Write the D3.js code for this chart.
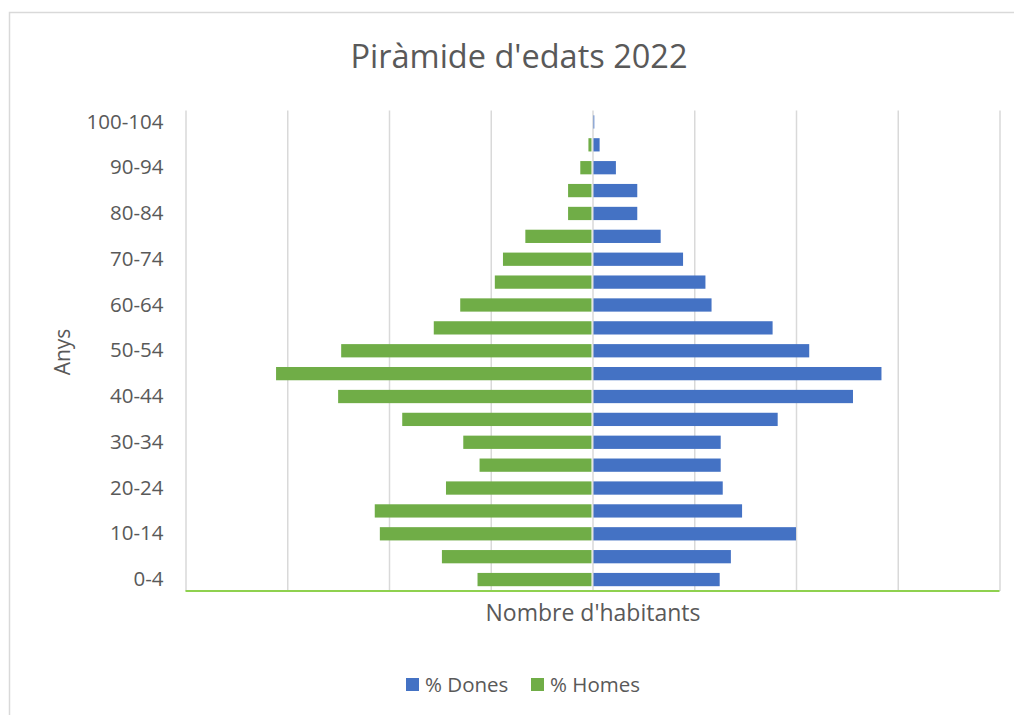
<!DOCTYPE html>
<html>
<head>
<meta charset="utf-8">
<script src="https://cdn.jsdelivr.net/npm/d3@7"></script>
<style>
  body { margin: 0; background: #fff; }
  svg { font-family: "Open Sans", "Noto Sans", sans-serif; }
  .grid line { stroke: #d9d9d9; stroke-width: 1.5; }
  .ylab text { fill: #595959; font-size: 20.5px; font-family: "Open Sans", "Noto Sans", sans-serif; }
</style>
</head>
<body>
<svg id="chart" width="1014" height="715"></svg>
<script>
// age groups, bottom to top
var ages = ['0-4','5-9','10-14','15-19','20-24','25-29','30-34','35-39','40-44','45-49',
            '50-54','55-59','60-64','65-69','70-74','75-79','80-84','85-89','90-94','95-99','100-104'];
var dones = [1.25,1.36,2.00,1.47,1.28,1.26,1.26,1.82,2.56,2.84,
             2.13,1.77,1.17,1.11,0.89,0.67,0.44,0.44,0.23,0.07,0.01];
var homes = [1.13,1.48,2.09,2.14,1.44,1.11,1.27,1.87,2.50,3.11,
             2.47,1.56,1.30,0.96,0.88,0.66,0.24,0.24,0.12,0.04,0];
var shownAges = ['0-4','10-14','20-24','30-34','40-44','50-54','60-64','70-74','80-84','90-94','100-104'];
var gridTicks = [-4,-3,-2,-1,0,1,2,3,4];

var svg = d3.select("#chart"),
    margin = {top: 110.5, left: 185.5, right: 14.5, bottom: 124},
    width = 1014 - margin.left - margin.right,
    height = 715 - margin.top - margin.bottom;

// chart frame
svg.append("rect")
    .attr("x", 9.5).attr("y", 12.5).attr("width", 1020).attr("height", 720)
    .style("fill", "none").style("stroke", "#d9d9d9").style("stroke-width", 1.5);

svg.append("text")
    .attr("x", 519).attr("y", 68)
    .attr("text-anchor", "middle")
    .style("font-size", "32.5px").style("fill", "#595959")
    .text("Piràmide d'edats 2022");

var g = svg.append("g").attr("transform", "translate(" + margin.left + "," + margin.top + ")");

var x = d3.scaleLinear().domain([-4, 4]).range([0, width]);
var y = d3.scaleBand().domain(ages).range([height, 0]).paddingInner(0.42).paddingOuter(0.21);

// vertical gridlines
g.append("g")
    .attr("class", "grid")
    .attr("transform", "translate(0," + height + ")")
    .call(d3.axisBottom(x).tickValues(gridTicks).tickSize(-height).tickFormat(""))
    .call(g => g.select(".domain").remove());

g.selectAll(".bar-h")
    .data(ages)
    .enter().append("rect")
    .attr("class", "bar-h")
    .attr("x", (d, i) => x(-homes[i]))
    .attr("y", d => y(d))
    .attr("width", (d, i) => x(0) - x(-homes[i]) - 1)
    .attr("height", y.bandwidth())
    .style("fill", "#70ad47");

g.selectAll(".bar-d")
    .data(ages)
    .enter().append("rect")
    .attr("class", "bar-d")
    .attr("x", x(0) + 1)
    .attr("y", d => y(d))
    .attr("width", (d, i) => Math.max(x(dones[i]) - x(0) - 1, 0.8))
    .attr("height", y.bandwidth())
    .style("fill", "#4472c4");

// bottom axis line
g.append("line")
    .attr("x1", 0).attr("x2", width)
    .attr("y1", height).attr("y2", height)
    .style("stroke", "#8fd14f").style("stroke-width", 2);

// age labels
g.append("g")
    .attr("class", "ylab")
    .attr("transform", "translate(-22,0)")
    .call(d3.axisLeft(y).tickValues(shownAges).tickSize(0).tickPadding(0))
    .call(g => g.select(".domain").remove());

svg.append("text")
    .attr("transform", "translate(70,352) rotate(-90)")
    .attr("text-anchor", "middle")
    .style("font-size", "21px").style("fill", "#595959")
    .text("Anys");

svg.append("text")
    .attr("x", 593).attr("y", 621)
    .attr("text-anchor", "middle")
    .style("font-size", "23px").style("fill", "#595959")
    .text("Nombre d'habitants");

// legend
var legend = [{name: "% Dones", color: "#4472c4", x: 406}, {name: "% Homes", color: "#70ad47", x: 531}];
var lg = svg.selectAll(".legend").data(legend).enter().append("g")
    .attr("transform", d => "translate(" + d.x + ",678)");
lg.append("rect").attr("width", 13).attr("height", 13).style("fill", d => d.color);
lg.append("text")
    .attr("x", 19).attr("y", 14)
    .style("font-size", "20.5px").style("fill", "#595959")
    .text(d => d.name);
</script>
</body>
</html>
